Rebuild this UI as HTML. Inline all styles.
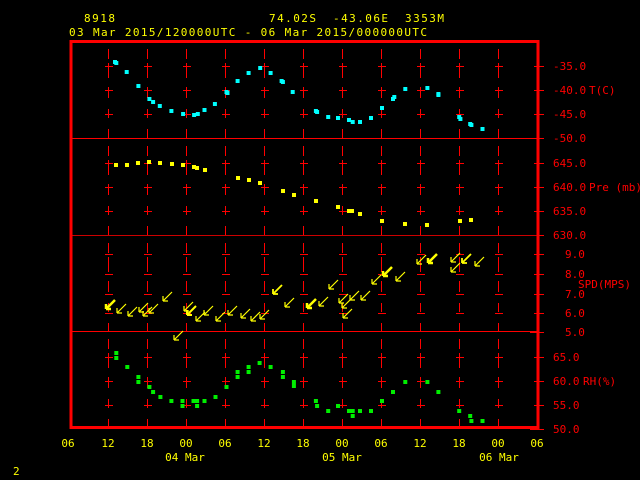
<!DOCTYPE html>
<html><head><style>
body{margin:0;background:#000;width:640px;height:480px;overflow:hidden}
svg{display:block}
text{font-family:"DejaVu Sans Mono","Liberation Mono",monospace;font-size:11px}
</style></head><body>
<svg width="640" height="480" viewBox="0 0 640 480">
<g fill="#ffff00" font-size="12">
<text x="84" y="22" textLength="31">8918</text>
<text x="269" y="22" textLength="47">74.02S</text>
<text x="333" y="22" textLength="55">-43.06E</text>
<text x="405" y="22" textLength="39">3353M</text>
<text x="69" y="36" textLength="358">03 Mar 2015/120000UTC - 06 Mar 2015/000000UTC</text>
<g text-anchor="middle">
<text x="68" y="447">06</text><text x="108" y="447">12</text><text x="147" y="447">18</text><text x="186" y="447">00</text><text x="225" y="447">06</text><text x="264" y="447">12</text><text x="303" y="447">18</text><text x="342" y="447">00</text><text x="381" y="447">06</text><text x="420" y="447">12</text><text x="459" y="447">18</text><text x="498" y="447">00</text><text x="537" y="447">06</text>
<text x="185" y="461">04 Mar</text><text x="342" y="461">05 Mar</text><text x="499" y="461">06 Mar</text>
</g>
<text x="13" y="475">2</text>
</g>
<g stroke="#ff0000" stroke-width="1" shape-rendering="crispEdges">
<g stroke-dasharray="10 4 15 9 11 11 9 11 9 100">
<path d="M108.5 49V139M147.5 49V139M186.5 49V139M225.5 49V139M264.5 49V139M303.5 49V139M342.5 49V139M381.5 49V139M420.5 49V139M459.5 49V139M498.5 49V139"/>
<path d="M108.5 146V236M147.5 146V236M186.5 146V236M225.5 146V236M264.5 146V236M303.5 146V236M342.5 146V236M381.5 146V236M420.5 146V236M459.5 146V236M498.5 146V236"/>
<path d="M108.5 243V333M147.5 243V333M186.5 243V333M225.5 243V333M264.5 243V333M303.5 243V333M342.5 243V333M381.5 243V333M420.5 243V333M459.5 243V333M498.5 243V333"/>
<path d="M108.5 339V429M147.5 339V429M186.5 339V429M225.5 339V429M264.5 339V429M303.5 339V429M342.5 339V429M381.5 339V429M420.5 339V429M459.5 339V429M498.5 339V429"/>
</g>
<path d="M105 66.5h8M144 66.5h8M183 66.5h8M222 66.5h8M261 66.5h8M300 66.5h8M339 66.5h8M378 66.5h8M417 66.5h8M456 66.5h8M495 66.5h8
M105 90.5h8M144 90.5h8M183 90.5h8M222 90.5h8M261 90.5h8M300 90.5h8M339 90.5h8M378 90.5h8M417 90.5h8M456 90.5h8M495 90.5h8
M105 114.5h8M144 114.5h8M183 114.5h8M222 114.5h8M261 114.5h8M300 114.5h8M339 114.5h8M378 114.5h8M417 114.5h8M456 114.5h8M495 114.5h8
M105 163.5h8M144 163.5h8M183 163.5h8M222 163.5h8M261 163.5h8M300 163.5h8M339 163.5h8M378 163.5h8M417 163.5h8M456 163.5h8M495 163.5h8
M105 187.5h8M144 187.5h8M183 187.5h8M222 187.5h8M261 187.5h8M300 187.5h8M339 187.5h8M378 187.5h8M417 187.5h8M456 187.5h8M495 187.5h8
M105 211.5h8M144 211.5h8M183 211.5h8M222 211.5h8M261 211.5h8M300 211.5h8M339 211.5h8M378 211.5h8M417 211.5h8M456 211.5h8M495 211.5h8
M105 254.5h8M144 254.5h8M183 254.5h8M222 254.5h8M261 254.5h8M300 254.5h8M339 254.5h8M378 254.5h8M417 254.5h8M456 254.5h8M495 254.5h8
M105 274.5h8M144 274.5h8M183 274.5h8M222 274.5h8M261 274.5h8M300 274.5h8M339 274.5h8M378 274.5h8M417 274.5h8M456 274.5h8M495 274.5h8
M105 294.5h8M144 294.5h8M183 294.5h8M222 294.5h8M261 294.5h8M300 294.5h8M339 294.5h8M378 294.5h8M417 294.5h8M456 294.5h8M495 294.5h8
M105 313.5h8M144 313.5h8M183 313.5h8M222 313.5h8M261 313.5h8M300 313.5h8M339 313.5h8M378 313.5h8M417 313.5h8M456 313.5h8M495 313.5h8
M105 357.5h8M144 357.5h8M183 357.5h8M222 357.5h8M261 357.5h8M300 357.5h8M339 357.5h8M378 357.5h8M417 357.5h8M456 357.5h8M495 357.5h8
M105 381.5h8M144 381.5h8M183 381.5h8M222 381.5h8M261 381.5h8M300 381.5h8M339 381.5h8M378 381.5h8M417 381.5h8M456 381.5h8M495 381.5h8
M105 405.5h8M144 405.5h8M183 405.5h8M222 405.5h8M261 405.5h8M300 405.5h8M339 405.5h8M378 405.5h8M417 405.5h8M456 405.5h8M495 405.5h8"/>
<path d="M534 66.5h10M534 90.5h10M534 114.5h10M530 138.5h14M534 163.5h10M534 187.5h10M534 211.5h10M530 235.5h14M534 254.5h10M534 274.5h10M534 294.5h10M534 313.5h10M530 332.5h14M534 357.5h10M534 381.5h10M534 405.5h10M530 429.5h14"/>
<path d="M70 235.5H538" stroke="#cc0000"/>
<path d="M70 138.5H538M70 331.5H538"/>
<rect x="71" y="41.5" width="467" height="386" fill="none" stroke-width="3"/>
</g>
<g fill="#ff0000">
<text x="553" y="70">-35.0</text><text x="553" y="94">-40.0</text><text x="553" y="118">-45.0</text><text x="553" y="142">-50.0</text>
<text x="589" y="94">T(C)</text>
<text x="553" y="167">645.0</text><text x="553" y="191">640.0</text><text x="553" y="215">635.0</text><text x="553" y="239">630.0</text>
<text x="589" y="191">Pre (mb)</text>
<text x="565" y="258">9.0</text><text x="565" y="278">8.0</text><text x="565" y="298">7.0</text><text x="565" y="317">6.0</text><text x="565" y="336">5.0</text>
<text x="578" y="288">SPD(MPS)</text>
<text x="553" y="361">65.0</text><text x="553" y="385">60.0</text><text x="553" y="409">55.0</text><text x="553" y="433">50.0</text>
<text x="583" y="385">RH(%)</text>
</g>
<g fill="#00ffff">
<rect x="113" y="60" width="4" height="4"/><rect x="114.3" y="61" width="4" height="4"/><rect x="124.7" y="70" width="4" height="4"/><rect x="136.4" y="84" width="4" height="4"/><rect x="147.4" y="97" width="4" height="4"/><rect x="151.1" y="100" width="4" height="4"/><rect x="157.8" y="104" width="4" height="4"/><rect x="169.4" y="109" width="4" height="4"/><rect x="181.1" y="112" width="4" height="4"/><rect x="192.1" y="113" width="4" height="4"/><rect x="195.8" y="112" width="4" height="4"/><rect x="202.5" y="108" width="4" height="4"/><rect x="212.9" y="102" width="4" height="4"/><rect x="224.5" y="90" width="4" height="4"/><rect x="225.5" y="91" width="4" height="4"/><rect x="235.6" y="79" width="4" height="4"/><rect x="246.6" y="71" width="4" height="4"/><rect x="258.2" y="66" width="4" height="4"/><rect x="268.6" y="71" width="4" height="4"/><rect x="279.6" y="79" width="4" height="4"/><rect x="280.9" y="80" width="4" height="4"/><rect x="290.7" y="90" width="4" height="4"/><rect x="313.9" y="109" width="4" height="4"/><rect x="315.1" y="110" width="4" height="4"/><rect x="326.2" y="115" width="4" height="4"/><rect x="336" y="116" width="4" height="4"/><rect x="347" y="118" width="4" height="4"/><rect x="350.7" y="120" width="4" height="4"/><rect x="358" y="120" width="4" height="4"/><rect x="369" y="116" width="4" height="4"/><rect x="380" y="106" width="4" height="4"/><rect x="391" y="97" width="4" height="4"/><rect x="392.3" y="95" width="4" height="4"/><rect x="403.3" y="87" width="4" height="4"/><rect x="425.4" y="86" width="4" height="4"/><rect x="436.4" y="92" width="4" height="4"/><rect x="436.4" y="93" width="4" height="4"/><rect x="457.2" y="115" width="4" height="4"/><rect x="458.4" y="117" width="4" height="4"/><rect x="468.2" y="122" width="4" height="4"/><rect x="469.4" y="123" width="4" height="4"/><rect x="480.5" y="127" width="4" height="4"/>
</g>
<g fill="#ffff00">
<rect x="114" y="163" width="4" height="4"/><rect x="125" y="163" width="4" height="4"/><rect x="136" y="161" width="4" height="4"/><rect x="147" y="160" width="4" height="4"/><rect x="158" y="161" width="4" height="4"/><rect x="170" y="162" width="4" height="4"/><rect x="181" y="163" width="4" height="4"/><rect x="192" y="165" width="4" height="4"/><rect x="195" y="166" width="4" height="4"/><rect x="203" y="168" width="4" height="4"/><rect x="236" y="176" width="4" height="4"/><rect x="247" y="178" width="4" height="4"/><rect x="258" y="181" width="4" height="4"/><rect x="281" y="189" width="4" height="4"/><rect x="292" y="193" width="4" height="4"/><rect x="314" y="199" width="4" height="4"/><rect x="336" y="205" width="4" height="4"/><rect x="347" y="209" width="4" height="4"/><rect x="350" y="209" width="4" height="4"/><rect x="358" y="212" width="4" height="4"/><rect x="380" y="219" width="4" height="4"/><rect x="403" y="222" width="4" height="4"/><rect x="425" y="223" width="4" height="4"/><rect x="458" y="219" width="4" height="4"/><rect x="469" y="218" width="4" height="4"/>
</g>
<g fill="#00ee00">
<rect x="114.3" y="351" width="4" height="4"/><rect x="114.3" y="356" width="4" height="4"/><rect x="125.3" y="365" width="4" height="4"/><rect x="136.4" y="375" width="4" height="4"/><rect x="136.4" y="380" width="4" height="4"/><rect x="147.4" y="385" width="4" height="4"/><rect x="151.1" y="390" width="4" height="4"/><rect x="158.4" y="395" width="4" height="4"/><rect x="169.4" y="399" width="4" height="4"/><rect x="180.5" y="399" width="4" height="4"/><rect x="180.5" y="404" width="4" height="4"/><rect x="191.5" y="399" width="4" height="4"/><rect x="195.1" y="399" width="4" height="4"/><rect x="195.1" y="404" width="4" height="4"/><rect x="202.5" y="399" width="4" height="4"/><rect x="213.5" y="395" width="4" height="4"/><rect x="224.5" y="385" width="4" height="4"/><rect x="235.6" y="370" width="4" height="4"/><rect x="235.6" y="375" width="4" height="4"/><rect x="246.6" y="365" width="4" height="4"/><rect x="246.6" y="370" width="4" height="4"/><rect x="257.6" y="361" width="4" height="4"/><rect x="268.6" y="365" width="4" height="4"/><rect x="280.9" y="370" width="4" height="4"/><rect x="280.9" y="375" width="4" height="4"/><rect x="291.9" y="380" width="4" height="4"/><rect x="291.9" y="384" width="4" height="4"/><rect x="313.9" y="399" width="4" height="4"/><rect x="315.1" y="404" width="4" height="4"/><rect x="326.2" y="409" width="4" height="4"/><rect x="336" y="404" width="4" height="4"/><rect x="347" y="409" width="4" height="4"/><rect x="350.7" y="409" width="4" height="4"/><rect x="350.7" y="414" width="4" height="4"/><rect x="358" y="409" width="4" height="4"/><rect x="369" y="409" width="4" height="4"/><rect x="380" y="399" width="4" height="4"/><rect x="391" y="390" width="4" height="4"/><rect x="403.3" y="380" width="4" height="4"/><rect x="425.4" y="380" width="4" height="4"/><rect x="436.4" y="390" width="4" height="4"/><rect x="457.2" y="409" width="4" height="4"/><rect x="468.2" y="414" width="4" height="4"/><rect x="469.4" y="419" width="4" height="4"/><rect x="480.5" y="419" width="4" height="4"/>
</g>
<defs><path id="a" d="M0 0l9-9M0 0v-5M0 0h5" fill="none"/></defs>
<g stroke="#ffff00" stroke-width="1.2">
<use href="#a" x="106" y="309" stroke-width="2.5"/><use href="#a" x="117" y="313"/><use href="#a" x="128" y="316"/><use href="#a" x="139" y="312"/><use href="#a" x="143" y="316"/><use href="#a" x="149" y="313"/><use href="#a" x="163" y="301"/><use href="#a" x="184" y="311"/><use href="#a" x="187" y="315" stroke-width="2"/><use href="#a" x="196" y="321"/><use href="#a" x="204" y="315"/><use href="#a" x="216" y="321"/><use href="#a" x="228" y="315"/><use href="#a" x="241" y="318"/><use href="#a" x="251" y="321"/><use href="#a" x="260" y="319"/><use href="#a" x="273" y="294" stroke-width="1.8"/><use href="#a" x="285" y="307"/><use href="#a" x="307" y="308" stroke-width="2.5"/><use href="#a" x="319" y="306"/><use href="#a" x="329" y="289"/><use href="#a" x="339" y="303"/><use href="#a" x="342" y="308"/><use href="#a" x="343" y="318"/><use href="#a" x="350" y="300"/><use href="#a" x="361" y="300"/><use href="#a" x="372" y="284"/><use href="#a" x="383" y="276" stroke-width="2.5"/><use href="#a" x="396" y="281"/><use href="#a" x="417" y="264"/><use href="#a" x="428" y="263" stroke-width="2.5"/><use href="#a" x="451" y="262"/><use href="#a" x="451" y="272"/><use href="#a" x="462" y="263" stroke-width="1.8"/><use href="#a" x="475" y="266"/><use href="#a" x="174" y="340"/>
</g>
</svg>
</body></html>
